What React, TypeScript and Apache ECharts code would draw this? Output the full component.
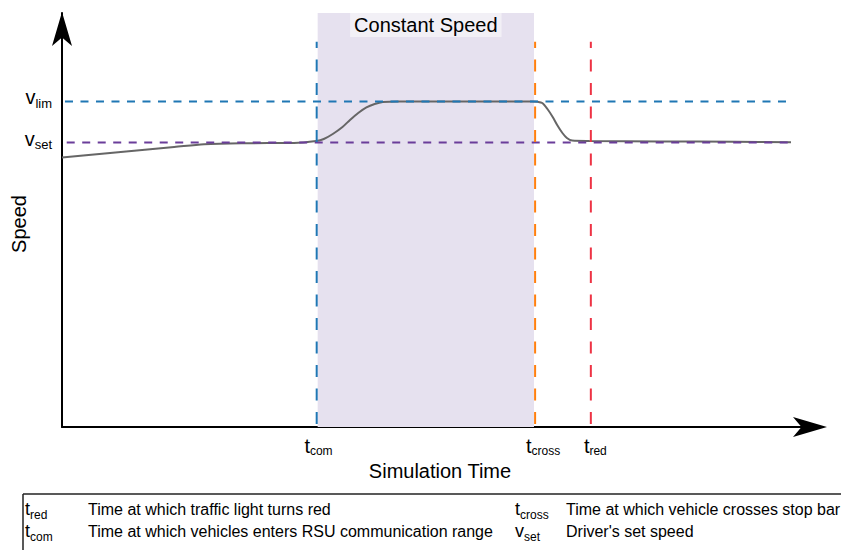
import React, { useEffect, useRef } from "react";
import * as echarts from "echarts";

// ---- data (x: simulation time, arbitrary units 0..100; y: speed, arbitrary units 0..103.5)
const curveX = [0, 5, 10, 15, 19, 24, 31, 34, 35, 36.2, 37.5, 38.5, 39.6, 40.7, 41.8, 42.9, 45.1, 50, 55, 60, 62.9, 63.6, 64.2, 64.9, 65.6, 66.2, 66.9, 67.5, 68.2, 70.5, 80, 90, 97.46];
const curveY = [67.4, 68.27, 69.14, 70.0, 70.7, 70.95, 71.0, 71.5, 72.0, 73.25, 75.0, 76.75, 78.5, 79.9, 80.75, 81.25, 81.4, 81.4, 81.4, 81.4, 81.4, 81.3, 81.0, 79.5, 77.5, 75.5, 73.5, 72.25, 71.6, 71.5, 71.4, 71.3, 71.2];

const vLim = 81.4;
const vSet = 71.1;
const tCom = 34.05;
const tCross = 63.25;
const tRed = 70.7;
const shadeRange = [34.18, 63.1];
const vertRange = [0.75, 96.3];
const limRange = [0.4, 97.5];
const setRange = [0.63, 97.6];
const yMax = 103.5;

const xTickValues = [tCom, tCross, tRed];
const xTickMain = ["t", "t", "t"];
const xTickSub = ["com", "cross", "red"];
const yTickValues = [vSet, vLim];
const yTickMain = ["v", "v"];
const yTickSub = ["set", "lim"];

const shadeLabel = "Constant Speed";
const xName = "Simulation Time";
const yName = "Speed";

const legendMain = ["t", "t", "t", "v"];
const legendSub = ["red", "com", "cross", "set"];
const legendText = [
  "Time at which traffic light turns red",
  "Time at which vehicles enters RSU communication range",
  "Time at which vehicle crosses stop bar",
  "Driver's set speed",
];

const FONT = "'Liberation Sans', Arial, Helvetica, sans-serif";

export default function App() {
  const ref = useRef<HTMLDivElement>(null);
  useEffect(() => {
    if (!ref.current) return;
    const chart = echarts.init(ref.current, null, { renderer: "svg" });

    const xPadLeft = [3.6, 16, 9];
    const xRich: any = {
      s: { fontSize: 12, fontFamily: FONT, color: "#000", lineHeight: 20, padding: [10.5, 0, 0, 0], verticalAlign: "middle" },
    };
    xPadLeft.forEach((p, i) => {
      xRich["m" + i] = { fontSize: 20, fontFamily: FONT, color: "#000", lineHeight: 20, padding: [0, 0, 0, p], verticalAlign: "middle" };
    });

    const legendCols = [25, 25, 515, 515];
    const legendDescX = [88, 88, 566, 566];
    const legendRowY = [515, 537, 515, 537];
    const graphics: any[] = [
      { type: "line", silent: true, shape: { x1: 23, y1: 494, x2: 841, y2: 494 }, style: { stroke: "#222", lineWidth: 1.5 } },
      { type: "line", silent: true, shape: { x1: 23, y1: 494, x2: 23, y2: 550 }, style: { stroke: "#222", lineWidth: 1.5 } },
    ];
    legendMain.forEach((m, i) => {
      graphics.push({
        type: "text",
        silent: true,
        x: legendCols[i],
        y: legendRowY[i] - 6.24,
        style: {
          text: `{m|${m}}{s|${legendSub[i]}}`,
          verticalAlign: "middle",
          align: "left",
          rich: {
            m: { fontSize: 18, fontFamily: FONT, fill: "#000", lineHeight: 20, verticalAlign: "middle" },
            s: { fontSize: 12, fontFamily: FONT, fill: "#000", lineHeight: 20, padding: [12, 0, 0, 0], verticalAlign: "middle" },
          },
        },
      });
      graphics.push({
        type: "text",
        silent: true,
        x: legendDescX[i],
        y: legendRowY[i] - 5.5,
        style: { text: legendText[i], fontSize: 16, fontFamily: FONT, fill: "#000", verticalAlign: "middle", align: "left" },
      });
    });

    const dashV = (x: number, color: string) => ({
      type: "line",
      silent: true,
      symbol: "none",
      data: [[x, vertRange[0]], [x, vertRange[1]]],
      lineStyle: { color, width: 2, type: [12, 11.5] },
      z: 3,
    });
    const dashH = (y: number, r: number[], color: string) => ({
      type: "line",
      silent: true,
      symbol: "none",
      data: [[r[0], y], [r[1], y]],
      lineStyle: { color, width: 2, type: [8, 7.5] },
      z: 3,
    });

    const option: any = {
      animation: false,
      backgroundColor: "#ffffff",
      textStyle: { fontFamily: FONT },
      grid: { left: 62, right: 31, top: 13, bottom: 123, containLabel: false, outerBoundsMode: "none" },
      xAxis: {
        type: "value",
        min: 0,
        max: 100,
        splitLine: { show: false },
        axisTick: { show: false },
        axisLine: { show: true, onZero: false, symbol: ["none", "arrow"], symbolSize: [15, 34], symbolOffset: [0, 17], lineStyle: { color: "#000", width: 2 } },
        axisLabel: {
          show: true,
          customValues: xTickValues,
          margin: 9,
          formatter: (v: number) => {
            const i = xTickValues.findIndex((t) => Math.abs(t - v) < 1e-6);
            if (i < 0) return "";
            return `{m${i}|${xTickMain[i]}}{s|${xTickSub[i]}}`;
          },
          rich: xRich,
        },
        name: xName,
        nameLocation: "middle",
        nameGap: 34,
        nameMoveOverlap: false,
        nameTextStyle: { fontSize: 20, color: "#000", fontFamily: FONT, padding: [0, 0, 0, 8] },
      },
      yAxis: {
        type: "value",
        min: 0,
        max: yMax,
        splitLine: { show: false },
        axisTick: { show: false },
        axisLine: { show: true, onZero: false, symbol: ["none", "arrow"], symbolSize: [15, 34], symbolOffset: [0, 1], lineStyle: { color: "#000", width: 2 } },
        axisLabel: {
          show: true,
          customValues: yTickValues,
          margin: 10,
          formatter: (v: number) => {
            const i = yTickValues.findIndex((t) => Math.abs(t - v) < 1e-6);
            if (i < 0) return "";
            return `{m|${yTickMain[i]}}{s|${yTickSub[i]}}`;
          },
          rich: {
            m: { fontSize: 20, fontFamily: FONT, color: "#000", lineHeight: 20, padding: [0, 0, 8.2, 0], verticalAlign: "middle" },
            s: { fontSize: 13, fontFamily: FONT, color: "#000", lineHeight: 20, padding: [4, 0, 0, 0], verticalAlign: "middle" },
          },
        },
        name: yName,
        nameLocation: "middle",
        nameGap: 33,
        nameMoveOverlap: false,
        nameTextStyle: { fontSize: 20, color: "#000", fontFamily: FONT, padding: [0, 8, 0, 0] },
      },
      graphic: graphics,
      series: [
        {
          type: "line",
          silent: true,
          symbol: "none",
          smooth: 0.3,
          data: curveX.map((x, i) => [x, curveY[i]]),
          lineStyle: { color: "#666666", width: 2 },
          z: 2,
          markArea: {
            silent: true,
            itemStyle: { color: "#e6e1ef", opacity: 1 },
            label: {
              show: true,
              position: "insideTop",
              distance: 0,
              formatter: shadeLabel,
              fontSize: 20,
              fontFamily: FONT,
              color: "#000",
              backgroundColor: "#f2f0f6",
              padding: [2, 4, 2, 4],
              lineHeight: 20,
            },
            data: [[{ xAxis: shadeRange[0], yAxis: 0 }, { xAxis: shadeRange[1], yAxis: yMax }]],
          },
        },
        dashH(vSet, setRange, "#6a3d9a"),
        dashH(vLim, limRange, "#1f77b4"),
        dashV(tCom, "#1f77b4"),
        dashV(tCross, "#ff7f0e"),
        dashV(tRed, "#ee3344"),
      ],
    };
    chart.setOption(option);
    return () => chart.dispose();
  }, []);
  return <div ref={ref} style={{ position: "absolute", left: 0, top: 0, width: 841, height: 550 }} />;
}
